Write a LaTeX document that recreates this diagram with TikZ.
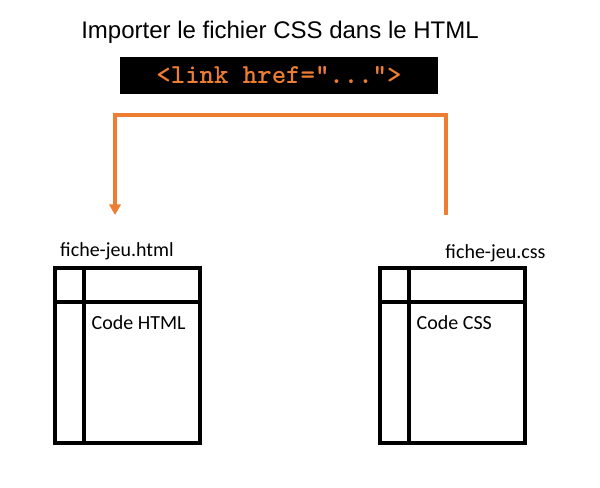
\documentclass[tikz,border=0pt]{standalone}
\usepackage{fontspec}
\setmainfont{Carlito}
\newfontfamily\titrefont{Liberation Sans}
\usetikzlibrary{arrows.meta}
\definecolor{orangelien}{HTML}{ED7D31}
\begin{document}
\begin{tikzpicture}[x=0.75pt,y=-0.75pt]
        \tikzset{>={Triangle[length=8pt,width=8.5pt]}}
        \tikzset{boite/.style={line width=3pt,line cap=rect},
                 fleche/.style={orangelien,line width=3pt,->},
                 etiquette/.style={font=\fontsize{15}{18}\selectfont}}
        \useasboundingbox (0,0) rectangle (600,487);
        \node[font=\titrefont\fontsize{18}{21}\selectfont] (titre) at (280,32) {Importer le fichier CSS dans le HTML};
        \node[fill=black,inner sep=0pt,minimum width=238.5pt,minimum height=27.75pt,
              text=orangelien,font=\ttfamily\bfseries\fontsize{20.6}{22}\selectfont] (code) at (279,75.5) {<link href="...">};
        % fichier html
        \draw[boite] (55,268) rectangle (200,443);
        \draw[boite] (84,268) -- (84,443);
        \draw[boite] (55,301.5) -- (200,301.5);
        \node[etiquette] (nomhtml) at (117,251) {fiche-jeu.html};
        \node[etiquette,anchor=west] (codehtml) at (87,323) {Code HTML};
        % fichier css
        \draw[boite] (380,268) rectangle (525,443);
        \draw[boite] (409,268) -- (409,443);
        \draw[boite] (380,301.5) -- (525,301.5);
        \node[etiquette] (nomcss) at (495.5,253) {fiche-jeu.css};
        \node[etiquette,anchor=west] (codecss) at (412,323) {Code CSS};
        % lien
        \coordinate (depart) at (446,215);
        \coordinate (arrivee) at (115,215);
        \draw[fleche] (depart) -- (depart |- 0,115) -- (arrivee |- 0,115) -- (arrivee);
    \end{tikzpicture}
\end{document}
